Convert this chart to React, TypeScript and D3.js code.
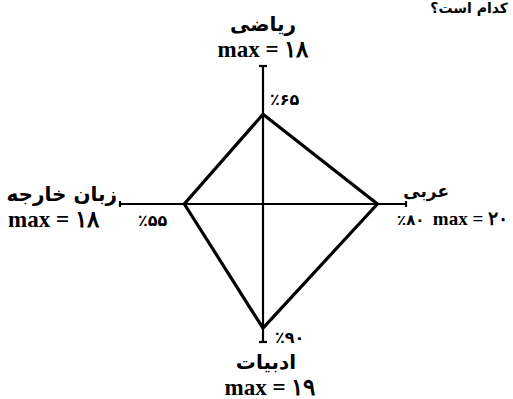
import React from "react";
import * as d3 from "d3";

const subjects = ["ریاضی", "عربی", "ادبیات", "زبان خارجه"];
const maxLabels = ["max = ۱۸", "max = ۲۰", "max = ۱۹", "max = ۱۸"];
const percents = [65, 80, 90, 55];
const percentLabels = ["٪۶۵", "٪۸۰", "٪۹۰", "٪۵۵"];
const headerText = "کدام است؟";

const W = 513;
const H = 399;
const cx = 263;
const cy = 204;
const rx = 143;
const ry = 138;

// directions: top, right, bottom, left
const dirs = [
  [0, -1],
  [1, 0],
  [0, 1],
  [-1, 0],
];

export default function App() {
  const r = d3.scaleLinear().domain([0, 100]).range([0, 1]);
  const pt = (i: number, v: number) => {
    const [dx, dy] = dirs[i];
    return [cx + dx * rx * r(v), cy + dy * ry * r(v)] as [number, number];
  };
  const poly = d3.line().curve(d3.curveLinearClosed)(percents.map((p, i) => pt(i, p)));
  const ends = dirs.map((_, i) => pt(i, 100));
  const persian = "'DejaVu Sans', sans-serif";
  const serif = "'Liberation Serif', 'DejaVu Serif', serif";
  const maxSize = 23;
  const subSize = 20;
  const pctSize = 16;

  return (
    <svg
      width={W}
      height={H}
      style={{ position: "absolute", left: 0, top: 0, background: "#fff" }}
    >
      <text x={508} y={13} textAnchor="end" fontFamily={persian} fontWeight="bold" fontSize={14}>
        {headerText}
      </text>
      {/* axes */}
      <g stroke="#000" strokeWidth={2.2}>
        <line x1={ends[3][0]} y1={cy} x2={ends[1][0]} y2={cy} />
        <line x1={cx} y1={ends[0][1]} x2={cx} y2={ends[2][1]} />
        <line x1={cx - 4} x2={cx + 4} y1={ends[0][1]} y2={ends[0][1]} />
        <line x1={cx - 4} x2={cx + 4} y1={ends[2][1]} y2={ends[2][1]} />
        <line y1={cy - 3} y2={cy + 3} x1={ends[3][0]} x2={ends[3][0]} />
        <line y1={cy - 3} y2={cy + 3} x1={ends[1][0]} x2={ends[1][0]} />
      </g>
      <path d={poly ?? ""} fill="none" stroke="#000" strokeWidth={3.2} strokeLinejoin="miter" />

      {/* top */}
      <text x={cx} y={31} textAnchor="middle" fontFamily={persian} fontWeight="bold" fontSize={subSize}>
        {subjects[0]}
      </text>
      <text x={cx} y={57} textAnchor="middle" fontFamily={serif} fontWeight="bold" fontSize={maxSize}>
        {maxLabels[0]}
      </text>
      <text x={270} y={105} fontFamily={persian} fontWeight="bold" fontSize={pctSize}>
        {percentLabels[0]}
      </text>

      {/* right */}
      <text x={449} y={197} textAnchor="end" fontFamily={persian} fontWeight="bold" fontSize={17}>
        {subjects[1]}
      </text>
      <text x={508} y={225} textAnchor="end" fontFamily={serif} fontWeight="bold" fontSize={19}>
        {maxLabels[1]}
      </text>
      <text x={397} y={225} fontFamily={persian} fontWeight="bold" fontSize={15}>
        {percentLabels[1]}
      </text>

      {/* bottom */}
      <text x={275} y={343} fontFamily={persian} fontWeight="bold" fontSize={pctSize}>
        {percentLabels[2]}
      </text>
      <text x={cx + 3} y={369} textAnchor="middle" fontFamily={persian} fontWeight="bold" fontSize={subSize}>
        {subjects[2]}
      </text>
      <text x={cx + 7} y={395} textAnchor="middle" fontFamily={serif} fontWeight="bold" fontSize={maxSize}>
        {maxLabels[2]}
      </text>

      {/* left */}
      <text x={117} y={201} textAnchor="end" fontFamily={persian} fontWeight="bold" fontSize={subSize}>
        {subjects[3]}
      </text>
      <text x={8} y={227} fontFamily={serif} fontWeight="bold" fontSize={maxSize}>
        {maxLabels[3]}
      </text>
      <text x={138} y={226} fontFamily={persian} fontWeight="bold" fontSize={pctSize}>
        {percentLabels[3]}
      </text>
    </svg>
  );
}
